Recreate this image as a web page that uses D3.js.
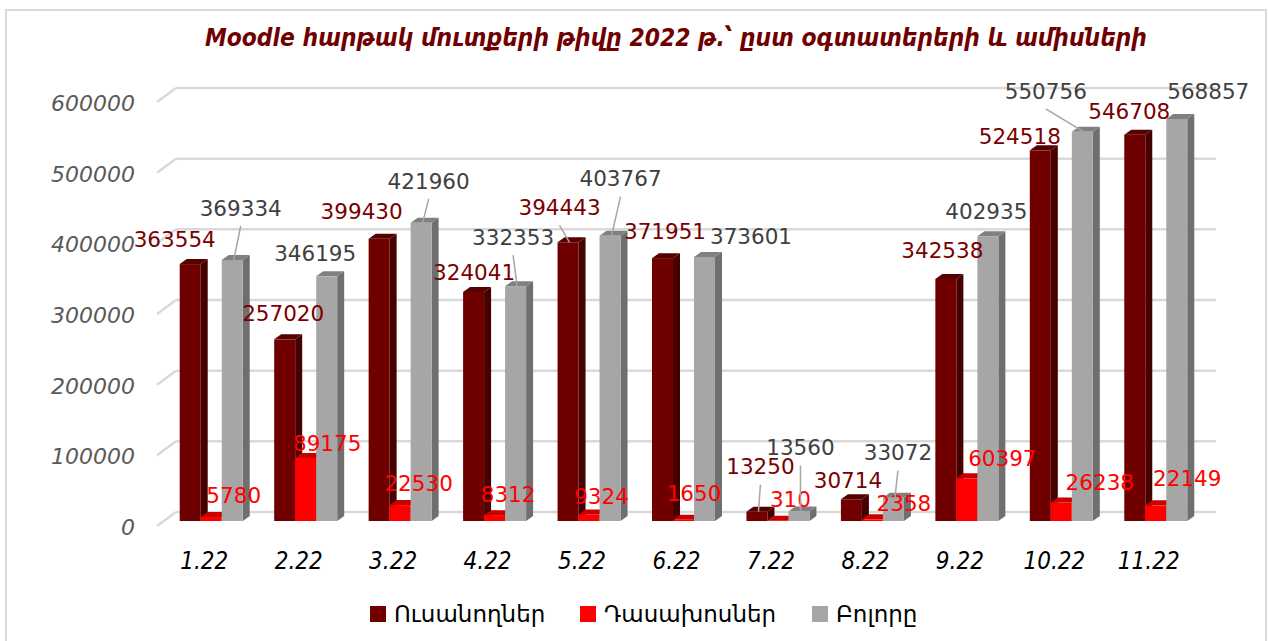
<!DOCTYPE html>
<html>
<head>
<meta charset="utf-8">
<script src="https://cdn.jsdelivr.net/npm/d3@7"></script>
<style>
  body { margin: 0; background: #fff; }
  svg { display: block; }
</style>
</head>
<body>
<div id="chart"></div>
<script>
// chart data
const categories = ["1.22", "2.22", "3.22", "4.22", "5.22", "6.22", "7.22", "8.22", "9.22", "10.22", "11.22"];
const students = [363554, 257020, 399430, 324041, 394443, 371951, 13250, 30714, 342538, 524518, 546708];
const teachers = [5780, 89175, 22530, 8312, 9324, 1650, 310, 2358, 60397, 26238, 22149];
const total = [369334, 346195, 421960, 332353, 403767, 373601, 13560, 33072, 402935, 550756, 568857];
const seriesNames = ["Ուսանողներ", "Դասախոսներ", "Բոլորը"];
const yTicks = [0, 100000, 200000, 300000, 400000, 500000, 600000];
const title = "Moodle հարթակ մուտքերի թիվը 2022 թ.՝ ըստ օգտատերերի և ամիսների";

// label nudges (label moved by hand in the original), [dx, dy] from bar top
const nudgeStudents = [[-19, -20], [-5, -21], [-21, -22], [-3, -15], [-12, -30], [-1, -22], [0, -40], [-7, -14], [-7, -24], [-24, -9], [-9, -18]];
const nudgeTeachers = [[19, -17], [18, -10], [15, -17], [10, -16], [9, -13], [7, -22], [9, -17], [28, -11], [32, -15], [35, -15], [28, -22]];
const nudgeTotal = [[5, -47], [-15, -18], [4, -37], [-6, -44], [7, -52], [43, -16], [-2, -59], [1, -40], [-5, -20], [-40, -36], [28, -23]];
// which labels get a leader line
const leaderStudents = [4, 6];
const leaderTotal = [0, 2, 3, 4, 6, 7, 9];

const width = 1268;
const height = 641;

const series = [
  { name: seriesNames[0], values: students, nudge: nudgeStudents, leaders: leaderStudents,
    front: "#700000", top: "#560000", side: "#450000", label: "#7a0000" },
  { name: seriesNames[1], values: teachers, nudge: nudgeTeachers, leaders: [],
    front: "#ff0000", top: "#c80000", side: "#b00000", label: "#ff0000" },
  { name: seriesNames[2], values: total, nudge: nudgeTotal, leaders: leaderTotal,
    front: "#a6a6a6", top: "#808080", side: "#6f6f6f", label: "#404040" }
];

const svg = d3
  .select("#chart")
  .append("svg")
  .attr("width", width)
  .attr("height", height);

// outer frame
svg
  .append("rect")
  .attr("x", 6)
  .attr("y", 10)
  .attr("width", 1260)
  .attr("height", 640)
  .attr("fill", "#fff")
  .attr("stroke", "#d9d9d9")
  .attr("stroke-width", 2);

// title
svg
  .append("text")
  .attr("x", 676)
  .attr("y", 46)
  .attr("text-anchor", "middle")
  .attr("textLength", 942)
  .attr("lengthAdjust", "spacingAndGlyphs")
  .style("font-family", "'DejaVu Sans Condensed', 'DejaVu Sans', sans-serif")
  .style("font-weight", "bold")
  .style("font-style", "italic")
  .style("font-size", "25px")
  .style("fill", "#700000")
  .text(title);

// 3D layout: front plane, bar plane and back wall
const depth = { barX: 7, barY: 5, wallX: 19, wallY: 14 };
const x = d3.scaleBand().domain(categories).range([157, 1196]);
const y = d3.scaleLinear().domain([0, 600000]).range([526, 102]);
const inner = d3.scaleBand().domain([0, 1, 2]).range([0, 63]);
const barW = inner.bandwidth();
const capX = 7;
const capY = 5;

// gridlines on the back wall
const grid = svg.append("g").attr("class", "grid");
grid
  .selectAll("line.h")
  .data(yTicks)
  .enter()
  .append("line")
  .attr("class", "h")
  .attr("x1", 157 + depth.wallX)
  .attr("x2", 1216)
  .attr("y1", (d) => y(d) - depth.wallY)
  .attr("y2", (d) => y(d) - depth.wallY)
  .attr("stroke", "#d9d9d9")
  .attr("stroke-width", 2.5);
grid
  .selectAll("line.d")
  .data(yTicks)
  .enter()
  .append("line")
  .attr("class", "d")
  .attr("x1", 157)
  .attr("x2", 157 + depth.wallX)
  .attr("y1", (d) => y(d))
  .attr("y2", (d) => y(d) - depth.wallY)
  .attr("stroke", "#d9d9d9")
  .attr("stroke-width", 2.5);

// y axis labels
svg
  .selectAll("text.ytick")
  .data(yTicks)
  .enter()
  .append("text")
  .attr("class", "ytick")
  .attr("x", 135)
  .attr("y", (d) => y(d) + 1)
  .attr("dy", "0.36em")
  .attr("text-anchor", "end")
  .style("font-family", "'DejaVu Sans', sans-serif")
  .style("font-style", "italic")
  .style("font-size", "22px")
  .style("fill", "#595959")
  .text((d) => d);

// bars
const bars = svg.append("g").attr("class", "bars");
function barLeft(i, k) {
  return x(categories[i]) + x.bandwidth() / 2 - 31.5 + depth.barX + inner(k);
}
function barBase() {
  return y(0) - depth.barY;
}
function barTop(v) {
  return y(v) - depth.barY;
}

categories.forEach((c, i) => {
  series.forEach((s, k) => {
    const v = s.values[i];
    const x0 = barLeft(i, k);
    const yb = barBase();
    const yt = barTop(v);
    const g = bars.append("g");
    g.append("polygon")
      .attr("points", [[x0 + barW, yt], [x0 + barW + capX, yt - capY], [x0 + barW + capX, yb - capY], [x0 + barW, yb]].join(" "))
      .attr("fill", s.side);
    g.append("polygon")
      .attr("points", [[x0, yt], [x0 + barW, yt], [x0 + barW + capX, yt - capY], [x0 + capX, yt - capY]].join(" "))
      .attr("fill", s.top);
    g.append("rect")
      .attr("x", x0)
      .attr("y", yt)
      .attr("width", barW)
      .attr("height", yb - yt)
      .attr("fill", s.front);
  });
});

// data labels with leader lines
const labels = svg.append("g").attr("class", "labels");
series.forEach((s, k) => {
  s.values.forEach((v, i) => {
    const ax = barLeft(i, k) + barW / 2 + capX / 2;
    const ay = barTop(v) - capY;
    const cx = ax + s.nudge[i][0];
    const cy = ay + s.nudge[i][1];
    if (s.leaders.includes(i)) {
      labels
        .append("line")
        .attr("x1", cx)
        .attr("y1", cy + 18)
        .attr("x2", ax - 2)
        .attr("y2", ay + 5)
        .attr("stroke", "#a6a6a6")
        .attr("stroke-width", 1.5);
    }
    labels
      .append("text")
      .attr("x", cx)
      .attr("y", cy)
      .attr("dy", "0.36em")
      .attr("text-anchor", "middle")
      .style("font-family", "'DejaVu Sans', sans-serif")
      .style("font-size", "21.5px")
      .style("fill", s.label)
      .text(v);
  });
});

// category labels
svg
  .selectAll("text.xtick")
  .data(categories)
  .enter()
  .append("text")
  .attr("class", "xtick")
  .attr("x", (d) => x(d) + x.bandwidth() / 2)
  .attr("y", 560)
  .attr("dy", "0.36em")
  .attr("text-anchor", "middle")
  .style("font-family", "'DejaVu Sans Condensed', 'DejaVu Sans', sans-serif")
  .style("font-style", "italic")
  .style("font-size", "24px")
  .style("fill", "#000")
  .text((d) => d);

// legend
const legendX = [370, 580, 812];
const legend = svg.append("g").attr("class", "legend");
series.forEach((s, k) => {
  legend
    .append("rect")
    .attr("x", legendX[k])
    .attr("y", 606)
    .attr("width", 16)
    .attr("height", 16)
    .attr("fill", s.front);
  legend
    .append("text")
    .attr("x", legendX[k] + 24)
    .attr("y", 622)
    .style("font-family", "'DejaVu Sans', sans-serif")
    .style("font-size", "23px")
    .style("fill", "#000")
    .text(s.name);
});
</script>
</body>
</html>
